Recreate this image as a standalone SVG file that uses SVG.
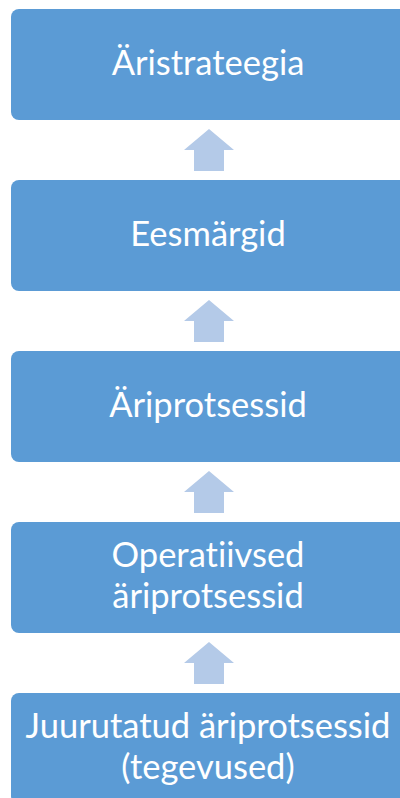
<svg xmlns="http://www.w3.org/2000/svg" width="400" height="798" viewBox="0 0 400 798">
  <style>
    .box { fill: #5B9BD5; }
    .lbl { fill: #FFFFFF; font-family: Lato, "Open Sans", "Liberation Sans", sans-serif; font-size: 34.5px; font-variant-ligatures: none; text-anchor: middle; }
    .up { fill: #B4CAE8; }
  </style>
  <defs>
    <!-- block arrow pointing up, tip at origin -->
    <polygon id="upArrow" points="0,0 25,21 15,21 15,42 -15,42 -15,21 -25,21"/>
  </defs>
  <rect width="400" height="798" fill="#FFFFFF"/>
  <g id="connectors">
    <use href="#upArrow" class="up" x="209" y="129"/>
    <use href="#upArrow" class="up" x="209" y="300"/>
    <use href="#upArrow" class="up" x="209" y="471"/>
    <use href="#upArrow" class="up" x="209" y="642"/>
  </g>
  <g id="aristrateegia">
    <rect class="box" x="11" y="9" width="396" height="111" rx="8"/>
    <text class="lbl" x="208" y="75">Äristrateegia</text>
  </g>
  <g id="eesmargid">
    <rect class="box" x="11" y="180" width="396" height="111" rx="8"/>
    <text class="lbl" x="208" y="246">Eesmärgid</text>
  </g>
  <g id="ariprotsessid">
    <rect class="box" x="11" y="351" width="396" height="111" rx="8"/>
    <text class="lbl" x="208" y="417">Äriprotsessid</text>
  </g>
  <g id="operatiivsed">
    <rect class="box" x="11" y="522" width="396" height="111" rx="8"/>
    <text class="lbl" x="208" y="567">Operatiivsed</text>
    <text class="lbl" x="208" y="608">äriprotsessid</text>
  </g>
  <g id="juurutatud">
    <rect class="box" x="11" y="693" width="396" height="111" rx="8"/>
    <text class="lbl" x="208" y="738">Juurutatud äriprotsessid</text>
    <text class="lbl" x="208" y="779">(tegevused)</text>
  </g>
</svg>
